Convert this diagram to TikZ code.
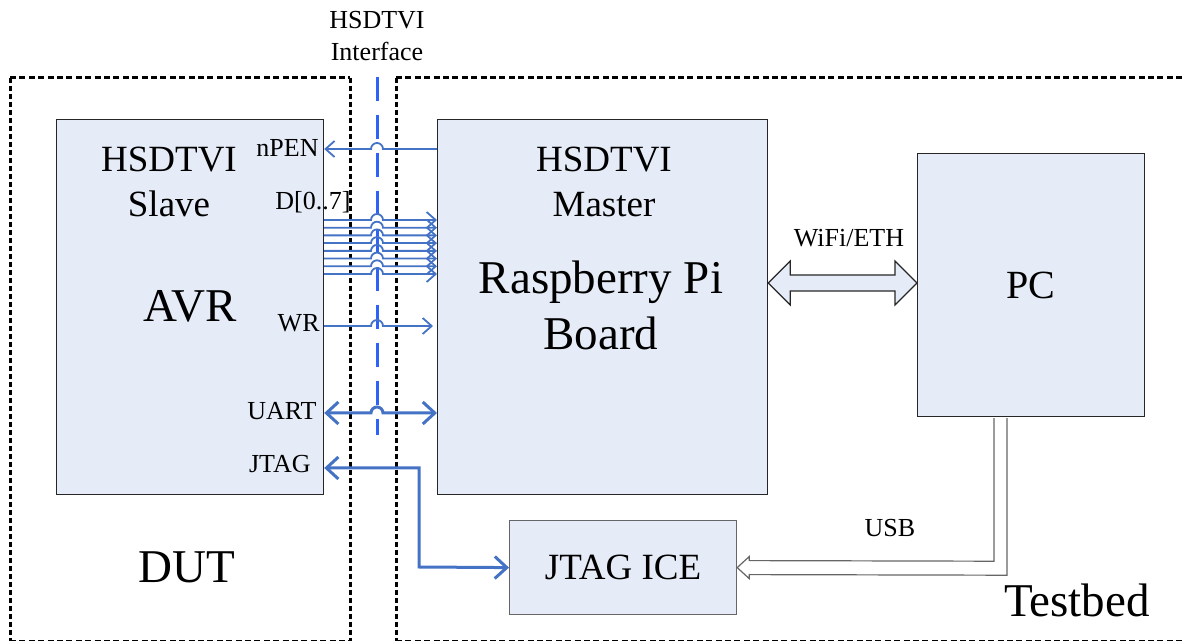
\documentclass[tikz,border=0pt]{standalone}
\usepackage{fontspec}
\setmainfont{Liberation Serif}
\usetikzlibrary{arrows.meta,calc}
\definecolor{boxfill}{RGB}{230,236,247}
\definecolor{sig}{RGB}{68,114,196}
\definecolor{ifcblue}{RGB}{45,100,245}
\begin{document}
\begin{tikzpicture}[x=0.5pt,y=-0.5pt,
  blk/.style={draw=black!85, line width=0.6pt, fill=boxfill, inner sep=0pt, anchor=north west},
  hframe/.style={draw=black, line width=1.5pt, dash pattern=on 3pt off 1.7pt},
  vframe/.style={draw=black, line width=1.5pt, dash pattern=on 2.4pt off 1.6pt},
  ifcline/.style={draw=ifcblue, line width=1.5pt, dash pattern=on 12pt off 7pt},
  sigline/.style={draw=sig, line width=0.9pt},
  thickline/.style={draw=sig, line width=1.5pt},
  thinhead/.style={-{Straight Barb[length=4.5pt,width=8pt]}},
  thinheadl/.style={{Straight Barb[length=4.5pt,width=8pt]}-},
  bighead/.style={{Straight Barb[length=6pt,width=11pt]}-{Straight Barb[length=6pt,width=11pt]}},
  small/.style={font=\fontsize{13}{15}\selectfont, inner sep=0pt},
  mid/.style={font=\fontsize{18.5}{22}\selectfont, inner sep=0pt, anchor=base},
  big/.style={font=\fontsize{23.5}{28}\selectfont, inner sep=0pt, anchor=base},
  hollow/.style={draw=black!85, line width=0.6pt, fill=boxfill, line join=miter},
  hollowg/.style={draw=black!60, line width=0.6pt, fill=white, line join=miter}
]
\useasboundingbox (0,0) rectangle (1184,641);
\clip (0,0) rectangle (1184,641);

% frames
\draw[hframe] (10,78) -- (350,78);
\draw[hframe] (10,641.5) -- (350,641.5);
\draw[vframe] (10,78) -- (10,641.5);
\draw[vframe] (350,78) -- (350,641.5);
\draw[hframe] (396,78) -- (1190,78);
\draw[hframe] (396,641.5) -- (1190,641.5);
\draw[vframe] (396,78) -- (396,641.5);

% boxes
\node[blk, minimum width=133.5pt, minimum height=187.5pt] (avr) at (56,119) {};
\node[blk, minimum width=165pt, minimum height=187.5pt] (rpi) at (437,119) {};
\node[blk, minimum width=113.5pt, minimum height=131.5pt, font=\fontsize{20}{24}\selectfont] (pc) at (917,153) {PC};
\node[blk, draw=black!60, minimum width=113.5pt, minimum height=47pt, font=\fontsize{18.5}{22}\selectfont] (ice) at (509,520) {JTAG ICE};

% texts
\node[small, anchor=base] (ifca) at (377,29) {HSDTVI};
\node[small, anchor=base] (ifcb) at (377,61) {Interface};
\node[mid] (slv1) at (169,172) {HSDTVI};
\node[mid] (slv2) at (169,217) {Slave};
\node[big] (avrt) at (190,322) {AVR};
\node[mid] (mst1) at (604,172) {HSDTVI};
\node[mid] (mst2) at (604,217) {Master};
\node[big] (rp1) at (601,294) {Raspberry Pi};
\node[big] (rp2) at (601,350) {Board};
\node[small, anchor=base east] (npen) at (319,157) {nPEN};
\node[small, anchor=base west] (dbus) at (275,210) {D[0..7]};
\node[small, anchor=base east] (wr) at (320,332) {WR};
\node[small, anchor=base east] (uart) at (317,420) {UART};
\node[small, anchor=base east] (jtag) at (311,473) {JTAG};
\node[small, anchor=base] (wifi) at (849,247) {WiFi/ETH};
\node[small, anchor=base] (usb) at (890,537) {USB};
\node[big] (dut) at (187,582) {DUT};
\node[big] (tb) at (1077,617) {Testbed};

% interface line
\coordinate (dtop) at (377,77);
\coordinate (dbot) at (377,435);
\draw[ifcline] (dtop) -- (dbot);

% signals
\draw[sigline, thinhead] (rpi.west |- 0,149) -- (383,149) arc[start angle=0,end angle=180,radius=3pt] -- (avr.east |- 0,149);
\foreach \y in {220,227.7,235.4,243.1,250.9,258.6,266.3,274}{
  \draw[sigline, thinhead] (avr.east |- 0,\y) -- (371,\y) arc[start angle=180,end angle=0,radius=3pt] -- (rpi.west |- 0,\y);
}
\draw[sigline, thinhead, shorten >=2pt] (avr.east |- 0,326) -- (371,326) arc[start angle=180,end angle=0,radius=3pt] -- (rpi.west |- 0,326);
\draw[thickline, bighead] (avr.east |- 0,413) -- (371,413) arc[start angle=180,end angle=0,radius=3pt] -- (rpi.west |- 0,413);
\draw[thickline, bighead] (avr.east |- 0,468) -- (419,468) -- (419,567) -- (ice.west);

% WiFi/ETH hollow double arrow
\coordinate (wa) at (rpi.east |- 0,283);
\coordinate (wb) at (pc.west |- 0,283);
\draw[hollow] (wa) -- ++(22,-22) -- ++(0,14) -- ($(wb)+(-22,-8)$) -- ++(0,-14) -- (wb) -- ++(-22,22) -- ++(0,-14) -- ($(wa)+(22,8)$) -- ++(0,14) -- cycle;

% USB hollow arrow
\draw[hollowg] ($(pc.south west)+(77,1)$) -- ++(0,143) -- ($(ice.east)+(12,-7)$) -- ++(0,-4) -- (ice.east) -- ++(12,11) -- ++(0,-4) -- ($(pc.south west)+(90,158)$) -- ($(pc.south west)+(90,1)$);
\end{tikzpicture}
\end{document}
